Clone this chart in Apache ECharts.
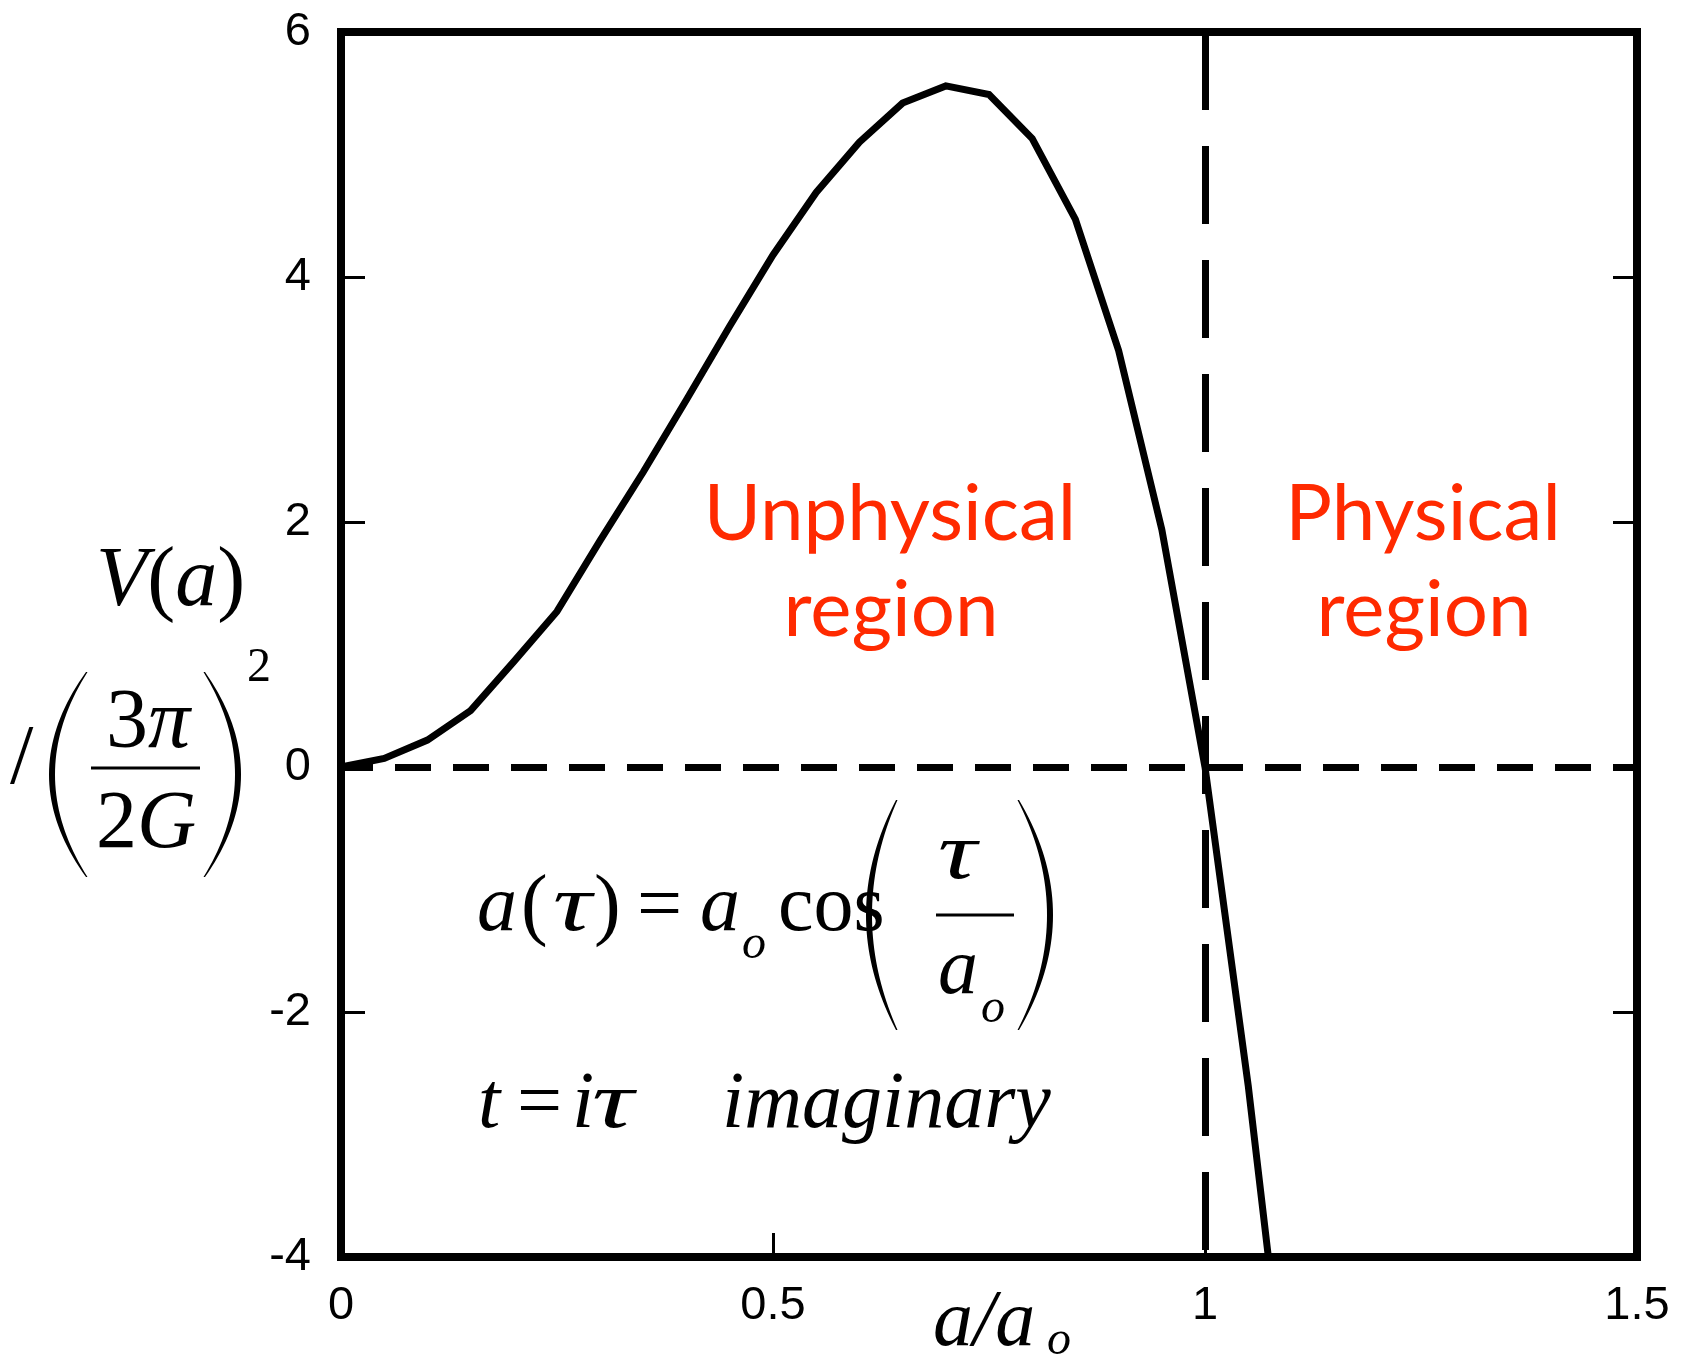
<!DOCTYPE html>
<html>
<head>
<meta charset="utf-8">
<script src="https://cdn.jsdelivr.net/npm/echarts@6/dist/echarts.min.js"></script>
<style>
html,body{margin:0;padding:0;background:#fff;}
#chart{width:1683px;height:1359px;}
</style>
</head>
<body>
<div id="chart"></div>
<script>
// ---- data ----
const aValues = [0, 0.05, 0.1, 0.15, 0.2, 0.25, 0.3, 0.35, 0.4, 0.45, 0.5, 0.55, 0.6, 0.65, 0.7, 0.75, 0.8, 0.85, 0.9, 0.95, 1.0, 1.05, 1.1];
const vValues = [0, 0.07, 0.22, 0.46, 0.86, 1.27, 1.85, 2.41, 3.0, 3.6, 4.18, 4.69, 5.10, 5.42, 5.56, 5.49, 5.13, 4.47, 3.40, 1.94, 0, -2.6, -5.6];
const xRange = [0, 1.5];
const yRange = [-4, 6];
const xStep = 0.5;
const yStep = 2;
const zeroLevel = 0;        // horizontal dashed reference
const boundaryA = 1;        // vertical dashed boundary a = a_o
const regionLabels = [['Unphysical', 'region'], ['Physical', 'region']];

const curve = aValues.map((a, i) => [a, vValues[i]]);

const SERIF = '"Liberation Serif", "Times New Roman", serif';
const SANS = '"Liberation Sans", Arial, sans-serif';
const RED = '#ff2a00';
const MID = 0.32;

function T(text, x, baseline, size, italic, extra, scaleX) {
  const el = {
    type: 'text', x: x, y: baseline - MID * size, z: 100,
    style: Object.assign({
      text: text, fontSize: size, fontFamily: SERIF,
      fontStyle: italic ? 'italic' : 'normal', fill: '#000',
      align: 'left', verticalAlign: 'middle'
    }, extra || {})
  };
  if (scaleX) { el.scaleX = scaleX; }
  return el;
}
function R(text, x, baseline, size, align) {
  return {
    type: 'text', x: x, y: baseline - MID * size, z: 100,
    style: {
      text: text, align: align || 'left', verticalAlign: 'middle',
      rich: {
        i: { fontSize: size, fontFamily: SERIF, fontStyle: 'italic', fill: '#000' },
        r: { fontSize: size, fontFamily: SERIF, fill: '#000' }
      }
    }
  };
}
// big stretched bracket drawn as a crescent polygon
function paren(xEnd, xBulge, thick, y1, y2, isLeft) {
  const ym = (y1 + y2) / 2;
  const inner = isLeft ? xBulge + thick : xBulge - thick;
  const e = isLeft ? 1.5 : -1.5;
  const c1 = 2 * xBulge - xEnd, c2 = 2 * inner - (xEnd + e);
  const n = 40, pts = [];
  for (let k = 0; k <= n; k++) {
    const t = k / n;
    pts.push([(1 - t) * (1 - t) * xEnd + 2 * t * (1 - t) * c1 + t * t * xEnd,
              (1 - t) * (1 - t) * y1 + 2 * t * (1 - t) * ym + t * t * y2]);
  }
  for (let k = n; k >= 0; k--) {
    const t = k / n;
    const xe = xEnd + e;
    pts.push([(1 - t) * (1 - t) * xe + 2 * t * (1 - t) * c2 + t * t * xe,
              (1 - t) * (1 - t) * y1 + 2 * t * (1 - t) * ym + t * t * y2]);
  }
  return { type: 'polygon', z: 100, shape: { points: pts }, style: { fill: '#000' } };
}
function bar(x1, x2, y) {
  return { type: 'line', z: 100, shape: { x1: x1, y1: y, x2: x2, y2: y }, style: { stroke: '#000', lineWidth: 3 } };
}
function redText(text, cx, baseline) {
  return { type: 'text', x: cx, y: baseline - 0.36 * 80, z: 100,
    style: { text: text, fontSize: 78, fontFamily: 'Lato, "Open Sans", sans-serif', fill: RED, align: 'center', verticalAlign: 'middle' } };
}

const TAU_SX = 1.35;
const graphics = [
  // region labels
  redText(regionLabels[0][0], 890, 544),
  redText(regionLabels[0][1], 891, 640),
  redText(regionLabels[1][0], 1423, 544),
  redText(regionLabels[1][1], 1424, 640),
  // equation line 1
  T('a', 477, 935, 80, true),
  T('(', 521, 935, 80, false),
  T('τ', 553, 935, 80, true, null, TAU_SX),
  T(')', 594, 935, 80, false),
  T('=', 637, 935, 80, false),
  T('a', 700, 935, 80, true),
  T('o', 742, 961, 48, true),
  T('cos', 778, 935, 80, false),
  paren(896, 866, 6, 800, 1030, true),
  T('τ', 938, 883, 80, true, null, TAU_SX),
  bar(936, 1014, 915),
  T('a', 938, 998, 80, true),
  T('o', 981, 1025, 48, true),
  paren(1019, 1053, 6, 800, 1030, false),
  // equation line 2
  T('t', 478, 1132, 80, true),
  T('=', 517, 1132, 80, false),
  T('i', 572, 1132, 80, true),
  T('τ', 592, 1132, 80, true, null, 1.45),
  T('imaginary', 722, 1132, 80, true),
  // y axis title
  R('{i|V}{r|(}{i|a}{r|)}', 96, 610, 84),
  T('/', 10, 788, 84, false),
  paren(86, 49, 6, 672, 877, true),
  R('{r|3}{i|π}', 148, 752, 84, 'center'),
  bar(91, 200, 768),
  R('{r|2}{i|G}', 146, 852, 82, 'center'),
  paren(205, 241, 6, 672, 877, false),
  T('2', 247, 684, 48, false),
  // x axis title
  T('a/a', 933, 1350, 80, true),
  T('o', 1047, 1357, 48, true)
];

const axisLineStyle = { color: '#000', width: 8, cap: 'square' };
const tickStyle = { color: '#000', width: 3 };
const labelStyle = { fontSize: 47, color: '#000', fontFamily: SANS };

const chart = echarts.init(document.getElementById('chart'), null, { renderer: 'canvas' });
chart.setOption({
  backgroundColor: '#fff',
  animation: false,
  grid: { left: 341, right: 46, top: 32, bottom: 102, containLabel: false },
  xAxis: [
    { type: 'value', min: xRange[0], max: xRange[1], interval: xStep, position: 'bottom',
      axisLine: { show: true, onZero: false, lineStyle: axisLineStyle },
      axisTick: { show: true, inside: true, length: 24, lineStyle: tickStyle },
      axisLabel: Object.assign({ margin: 26 }, labelStyle),
      splitLine: { show: false } },
    { type: 'value', min: xRange[0], max: xRange[1], interval: xStep, position: 'top',
      axisLine: { show: true, onZero: false, lineStyle: axisLineStyle },
      axisTick: { show: false },
      axisLabel: { show: false },
      splitLine: { show: false } }
  ],
  yAxis: [
    { type: 'value', min: yRange[0], max: yRange[1], interval: yStep, position: 'left',
      axisLine: { show: true, onZero: false, lineStyle: axisLineStyle },
      axisTick: { show: true, inside: true, length: 24, lineStyle: tickStyle },
      axisLabel: Object.assign({ margin: 30 }, labelStyle),
      splitLine: { show: false } },
    { type: 'value', min: yRange[0], max: yRange[1], interval: yStep, position: 'right',
      axisLine: { show: true, onZero: false, lineStyle: axisLineStyle },
      axisTick: { show: true, inside: true, length: 24, lineStyle: tickStyle },
      axisLabel: { show: false },
      splitLine: { show: false } }
  ],
  series: [
    { type: 'line', data: curve, xAxisIndex: 0, yAxisIndex: 0, showSymbol: false, symbol: 'none',
      smooth: false, clip: true, lineStyle: { color: '#000', width: 7, join: 'miter' }, z: 3,
      markLine: {
        silent: true, symbol: 'none', label: { show: false }, animation: false,
        data: [
          { yAxis: zeroLevel, lineStyle: { color: '#000', width: 7, type: [36, 22], dashOffset: 4, cap: 'butt' } },
          { xAxis: boundaryA, lineStyle: { color: '#000', width: 7, type: [78, 36], dashOffset: 107, cap: 'butt' } }
        ]
      }
    }
  ],
  graphic: graphics
});
</script>
</body>
</html>
